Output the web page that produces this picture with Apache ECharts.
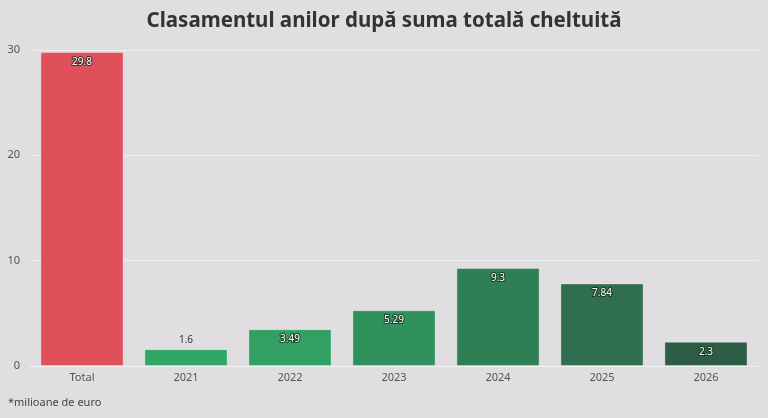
<!DOCTYPE html>
<html>
<head>
<meta charset="utf-8">
<script src="https://cdn.jsdelivr.net/npm/echarts@6/dist/echarts.min.js"></script>
<style>
  html, body { margin: 0; padding: 0; background: #e0dee1; }
  #chart { width: 768px; height: 418px; }
</style>
</head>
<body>
<div id="chart"></div>
<script>
const categories = ["Total", "2021", "2022", "2023", "2024", "2025", "2026"];
const values = [29.8, 1.6, 3.49, 5.29, 9.3, 7.84, 2.3];
const barColors = ["#e0505b", "#2fa766", "#32a062", "#30915c", "#2f7f55", "#2f6e4e", "#2d5e45"];
const yTicks = [0, 10, 20, 30];

const chart = echarts.init(document.getElementById("chart"));

chart.setOption({
  backgroundColor: "#e0dee1",
  title: {
    text: "Clasamentul anilor după suma totală cheltuită",
    left: "center",
    top: 6,
    textStyle: {
      fontFamily: "Noto Sans",
      fontWeight: "bold",
      fontSize: 20.5,
      color: "#333333",
    },
  },
  graphic: [
    {
      type: "text",
      left: 8,
      top: 397,
      style: {
        text: "*milioane de euro",
        fontFamily: "Noto Sans",
        fontSize: 11,
        fill: "#444444",
      },
    },
  ],
  grid: {
    top: 50,
    left: 30,
    right: 10,
    bottom: 52,
    containLabel: false,
  },
  xAxis: {
    type: "category",
    data: categories,
    axisTick: { show: false },
    axisLine: { lineStyle: { color: "#f2f1f3", width: 1 } },
    axisLabel: {
      color: "#555555",
      fontFamily: "Noto Sans",
      fontSize: 11,
      margin: 6,
    },
  },
  yAxis: {
    type: "value",
    min: yTicks[0],
    max: yTicks[yTicks.length - 1],
    interval: 10,
    axisLabel: {
      color: "#555555",
      fontFamily: "Noto Sans",
      fontSize: 11,
      margin: 10,
    },
    axisLine: { show: false },
    axisTick: { show: false },
    splitLine: {
      lineStyle: { color: "#eeedef", width: 1 },
    },
  },
  series: [
    {
      type: "bar",
      barWidth: "80%",
      data: values.map((v, i) => ({
        value: v,
        itemStyle: { color: barColors[i] },
        label: i === 1
          ? { position: "top", color: "#333333", textBorderWidth: 0, distance: 4 }
          : {},
      })),
      itemStyle: {
        borderColor: "rgba(255,255,255,0.35)",
        borderWidth: 1,
      },
      label: {
        show: true,
        position: "insideTop",
        distance: 5,
        color: "#ffffff",
        fontFamily: "Noto Sans",
        fontWeight: "normal",
        fontSize: 10,
        textBorderColor: "rgba(20,50,30,0.85)",
        textBorderWidth: 2,
      },
    },
  ],
});
</script>
</body>
</html>
